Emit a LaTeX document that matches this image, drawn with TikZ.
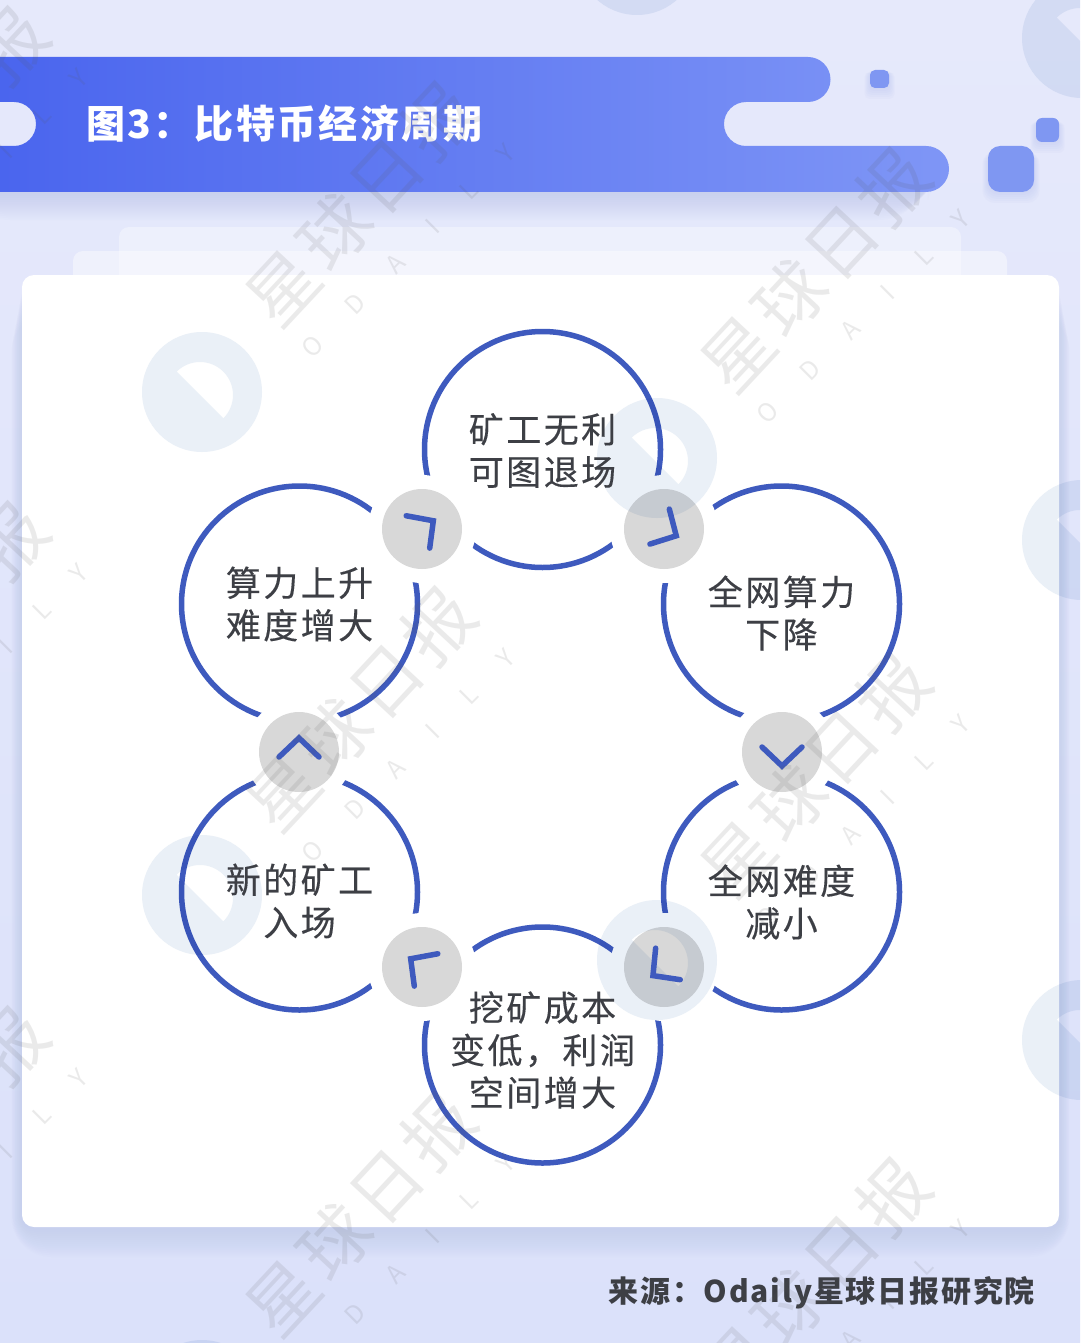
\documentclass[tikz,border=0pt]{standalone}
\usepackage{fontspec}
\usetikzlibrary{positioning}
\newfontfamily\cjk[LetterSpace=7,FakeBold=0.25]{Noto Sans CJK SC}
\newfontfamily\cjkhead[LetterSpace=6]{Noto Sans CJK SC}
\newfontfamily\cjkmark{Noto Sans CJK SC}
\newfontfamily\cjkletter[LetterSpace=165]{Noto Sans CJK SC}

\definecolor{bgtop}{HTML}{E6E9FB}
\definecolor{bgbot}{HTML}{DBE1FA}
\definecolor{ring}{HTML}{3E5ABE}
\definecolor{bdgfill}{HTML}{D8D8D8}
\definecolor{ink}{HTML}{3D3F45}
\definecolor{barl}{HTML}{4A65EE}
\definecolor{barr}{HTML}{7F96F6}
\definecolor{chip}{HTML}{7F97F2}
\definecolor{logoc}{HTML}{EAF0F7}
\definecolor{shd}{HTML}{B4C0EE}

\tikzset{
  cyc/.style={circle,draw=ring,line width=5.5pt,minimum size=236pt,inner sep=0pt},
  halo/.style={circle,fill=white,minimum size=108pt,inner sep=0pt},
  bdg/.style={circle,fill=bdgfill,minimum size=80pt,inner sep=0pt},
  chev/.style={draw=ring,line width=5.5pt,line cap=round,line join=miter},
  cyctext/.style={text=ink,align=center,font=\cjk\fontsize{35}{42.5}\selectfont},
  wmcn/.style={text=black!65,opacity=.12,font=\cjkmark\fontsize{70}{70}\selectfont,inner sep=0pt},
  wmen/.style={text=black!65,opacity=.12,font=\cjkletter\fontsize{25}{25}\selectfont,inner sep=0pt},
  logo/.style={fill=logoc,blend mode=multiply,even odd rule},
  soft/.style={fill=shd,opacity=#1},
  chiprect/.style={fill=chip,rounded corners=#1},
}

\begin{document}
\begin{tikzpicture}[x=1pt,y=-1pt]

\clip (0,0) rectangle (1080,1343);
\useasboundingbox (0,0) rectangle (1080,1343);

\shade[top color=bgtop,bottom color=bgbot] (0,0) rectangle (1080,1343);

\foreach \s in {2,4,...,30} {
  \fill[soft=.035,rounded corners=10+\s] (22-\s*.35,283+\s) rectangle (1059+\s*.35,1227+\s);
  \fill[soft=.045,rounded corners=20+\s] (-40,150) rectangle (940-\s*.4,190+\s);
}
\foreach \s in {1,3,...,11} {
  \fill[soft=.08,rounded corners=5] (870-\s*.5,72) rectangle (889+\s*.5,88+\s);
  \fill[soft=.08,rounded corners=6] (1036-\s*.5,122) rectangle (1059+\s*.5,142+\s);
  \fill[soft=.08,rounded corners=12] (988-\s*.5,152) rectangle (1034+\s*.5,192+\s);
}

\fill[color=white,opacity=.35,rounded corners=10] (119,227) rectangle (961,300);
\fill[color=white,opacity=.42,rounded corners=10] (73,251) rectangle (1007,300);
\fill[white,rounded corners=12] (22,275) rectangle (1059,1227);

\shade[left color=barl,right color=barr]
(0,57) -- (808,57) arc[start angle=90,end angle=-90,radius=22.5pt]
-- (746,102) arc[start angle=90,end angle=270,radius=22pt]
-- (926,146) arc[start angle=90,end angle=-90,radius=23pt]
-- (0,192) -- (0,146) -- (14,146) arc[start angle=-90,end angle=90,radius=22pt]
-- (0,102) -- cycle;

\fill[chiprect=5] (870,70) rectangle (889,88);
\fill[chiprect=6] (1036,118) rectangle (1059,142);
\fill[chiprect=12] (988,146) rectangle (1034,192);

\node[anchor=west,text=white,inner sep=0pt,font=\cjkhead\bfseries\fontsize{39}{39}\selectfont] (Title) at (86,124) {图3：比特币经济周期};
\node[anchor=east,text=ink,inner sep=0pt,font=\cjkhead\bfseries\fontsize{30}{30}\selectfont] (Source) at (1035,1293) {来源：Odaily星球日报研究院};

\node[cyc] (C1) at (542.5,449.5) {};
\node[cyc] (C2) at (781.5,604) {};
\node[cyc] (C3) at (781.5,892) {};
\node[cyc] (C4) at (542.5,1045) {};
\node[cyc] (C5) at (299.5,892) {};
\node[cyc] (C6) at (299.5,604) {};

\foreach \n/\bx/\by in {1/422/529,2/664/529,3/782/752,4/664/967,5/422/967,6/299/752} {
  \node[halo] (H\n) at (\bx,\by) {};
}

\foreach \lx/\ly in {202/392,657/458,202/895,657/960,637/-45,1082/38,1082/540,1082/1040,202/1400} {
  \fill[logo] (\lx,\ly) circle (60pt)
  ([shift={(135:33pt)}]\lx-2,\ly+3) arc[start angle=135,end angle=-45,radius=33pt] -- cycle;
}

\foreach \n/\a in {1/36,2/-29,3/-90,4/218,5/144,6/90} {
  \node[bdg,blend mode=multiply] (B\n) at (H\n) {};
  \draw[chev,shift={(B\n)},rotate=\a] (-5pt,20pt) -- (14pt,0pt) -- (-5pt,-20pt);
}

\foreach \t/\ty/\tw in {1/-1/{矿工无利\\可图退场},2/-9/{全网算力\\下降},3/-10/{全网难度\\减小},4/-5/{挖矿成本\\变低，利润\\空间增大},5/-9/{新的矿工\\入场},6/0/{算力上升\\难度增大}} {
  \node[cyctext] (T\t) at ([yshift=\ty pt]C\t) {\tw};
}

\foreach \wx/\wy [count=\n] in {283/287,738/353,283/792,738/858,283/1297,738/1363,-144/212,-144/707,-144/1212} {
  \node[wmcn,rotate=47] (W\n) at (\wx+77.5,\wy-83) {星\hspace{6pt}球\hspace{6pt}日\hspace{6pt}报};
  \node[wmen,rotate=45] (L\n) at (\wx+125.5,\wy-36.5) {ODAILY};
}

\end{tikzpicture}
\end{document}
